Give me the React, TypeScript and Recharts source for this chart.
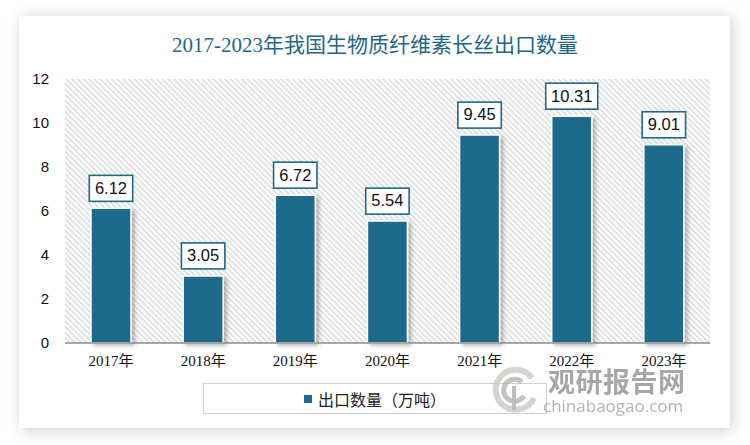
import React from 'react';
import { BarChart, Bar, XAxis, YAxis, CartesianGrid, LabelList, Legend } from 'recharts';

const categories = ['2017年', '2018年', '2019年', '2020年', '2021年', '2022年', '2023年'];
const exportVolume = [6.12, 3.05, 6.72, 5.54, 9.45, 10.31, 9.01];
const yTicks = [0, 2, 4, 6, 8, 10, 12];
const seriesName = '出口数量（万吨）';
const title = '2017-2023年我国生物质纤维素长丝出口数量';

const data = categories.map((c, i) => ({ year: c, value: exportVolume[i] }));

const BAR_COLOR = '#1b6a8c';

const ValueLabel = (props: any) => {
  const { x, y, width, value } = props;
  const text = Number(value).toFixed(2);
  const bw = text.length * 8.6 + 9;
  const bh = 26;
  const cx = x + width / 2;
  const top = y - 7 - bh;
  return (
    <g>
      <rect x={cx - bw / 2} y={top} width={bw} height={bh} fill="#fff" stroke={BAR_COLOR} strokeWidth={1.6} />
      <text x={cx} y={top + bh / 2 + 1} textAnchor="middle" dominantBaseline="middle"
        fontFamily="'Liberation Sans', Arial, sans-serif" fontSize={16.5} fill="#111">{text}</text>
    </g>
  );
};

const LegendBox = () => (
  <div style={{
    width: 344, height: 31, boxSizing: 'border-box', border: '1px solid #d0d0d0', background: '#fff',
    display: 'flex', alignItems: 'center', justifyContent: 'center',
  }}>
    <span style={{ width: 8, height: 8, background: BAR_COLOR, display: 'inline-block', marginRight: 6 }} />
    <span style={{ fontFamily: "'Liberation Serif', 'Noto Sans CJK SC', serif", fontSize: 16, color: '#222' }}>{seriesName}</span>
  </div>
);

export default function App() {
  return (
    <div style={{ position: 'absolute', left: 0, top: 0, width: 750, height: 445, background: '#fff', overflow: 'hidden' }}>
      <svg width={0} height={0} style={{ position: 'absolute' }}>
        <defs>
          <pattern id="hatch" width={4} height={4} patternUnits="userSpaceOnUse" patternTransform="rotate(45)">
            <line x1={0} y1={1} x2={4} y2={1} stroke="#d2d2d2" strokeWidth={1.3} />
          </pattern>
          <filter id="barShadow" x="-30%" y="-10%" width="160%" height="130%">
            <feDropShadow dx={3} dy={2} stdDeviation={2} floodColor="#000" floodOpacity={0.28} />
          </filter>
        </defs>
      </svg>
      <div style={{
        position: 'absolute', left: 19, top: 16, width: 711, height: 412, background: '#fff',
        boxShadow: '2px 2px 14px rgba(0,0,0,0.2)',
      }} />
      <div style={{
        position: 'absolute', left: 0, top: 31, width: 750, textAlign: 'center',
        fontFamily: "'Liberation Serif', 'Noto Sans CJK SC', serif", fontSize: 21, color: '#1f6789', lineHeight: '28px',
      }}>{title}</div>
      <div style={{ position: 'absolute', left: 0, top: 0 }}>
        <BarChart width={750} height={445} data={data} margin={{ top: 79, right: 40, bottom: 41, left: 0 }} barSize={40}>
          <CartesianGrid horizontal={false} vertical={false} fill="url(#hatch)" stroke="none" />
          <XAxis dataKey="year" axisLine={{ stroke: '#8c8c8c', strokeWidth: 1.3 }} tickLine={false} tickSize={0} tickMargin={12}
            height={30} interval={0}
            tick={{ fontFamily: "'Liberation Serif', 'Noto Sans CJK SC', serif", fontSize: 15, fill: '#111' }} />
          <YAxis domain={[0, 12]} ticks={yTicks} axisLine={false} tickLine={false} tickSize={0} tickMargin={16} width={65}
            tick={{ fontFamily: "'Liberation Sans', Arial, sans-serif", fontSize: 15, fill: '#111' }} />
          <Legend content={<LegendBox />} wrapperStyle={{ position: 'absolute', left: 203, top: 383, width: 344, height: 31 }} />
          <Bar dataKey="value" name={seriesName} fill={BAR_COLOR} stroke="#fff" strokeWidth={1.5}
            isAnimationActive={false} style={{ filter: 'url(#barShadow)' }}>
            <LabelList dataKey="value" content={<ValueLabel />} />
          </Bar>
        </BarChart>
      </div>
      <div style={{ position: 'absolute', left: 490, top: 364, width: 210, height: 55, opacity: 0.75, pointerEvents: 'none' }}>
        <svg width={50} height={52} style={{ position: 'absolute', left: 0, top: 0 }}>
          <path d="M42 14 A20 20 0 1 0 44 34" fill="none" stroke="#c8c8c0" strokeWidth={6} />
          <path d="M32 18 A11 11 0 1 0 34 32" fill="none" stroke="#b0b0b0" strokeWidth={5} />
          <path d="M24 22 L24 46" fill="none" stroke="#a8a8a8" strokeWidth={4} />
        </svg>
        <div style={{
          position: 'absolute', left: 58, top: 3, fontFamily: "'Noto Sans CJK SC', sans-serif", fontWeight: 700,
          fontSize: 27, lineHeight: '28px', color: '#8a8a8a', letterSpacing: 0.5,
        }}>观研报告网</div>
        <div style={{
          position: 'absolute', left: 53, top: 33, fontFamily: "'Open Sans', 'DejaVu Sans', sans-serif",
          fontSize: 17, lineHeight: '18px', color: '#9a9a9a',
        }}>chinabaogao.com</div>
      </div>
    </div>
  );
}
